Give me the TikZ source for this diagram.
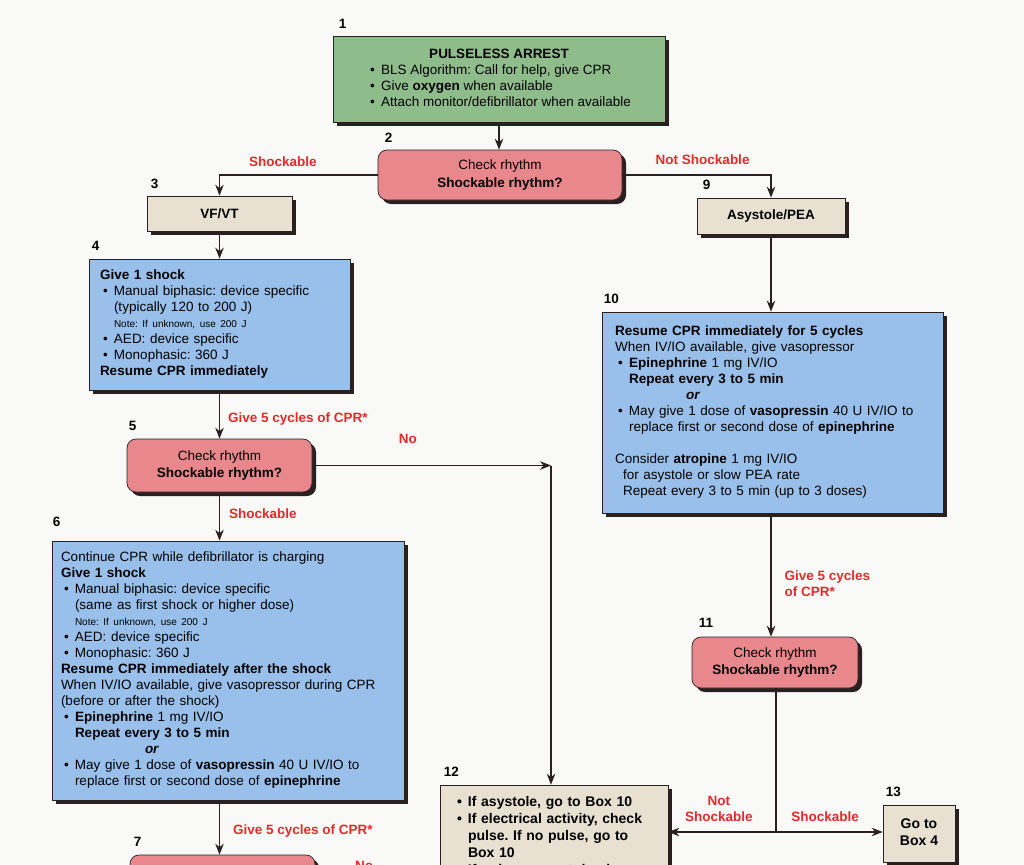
\documentclass[tikz,border=0pt]{standalone}
\usepackage{fontspec}
\setmainfont{Liberation Sans}
\usetikzlibrary{shapes,shadows,arrows.meta,positioning}

\newcommand{\bu}{\hspace*{3pt}\makebox[11pt][l]{\textbullet}}
\newcommand{\ind}{\hspace*{14pt}}
\newcommand{\note}[1]{{\fontsize{10}{16}\selectfont #1}}
\frenchspacing

\begin{document}
\begin{tikzpicture}[x=1pt,y=-1pt,
		every node/.style={font=\fontsize{13.5}{16}\selectfont},
		boxbase/.style={draw=ink,line width=0.7pt,inner sep=0pt,
			drop shadow={shadow xshift=4pt,shadow yshift=-4pt,fill=ink,opacity=1}},
		startbox/.style={boxbase,fill=greenc},
		askbox/.style={boxbase,fill=pinkc,rounded corners=9pt,font=\fontsize{13.5}{17.5}\selectfont},
		rhythmbox/.style={boxbase,fill=beigec,font=\fontsize{13.5}{16}\selectfont\bfseries},
		stepbox/.style={boxbase,fill=bluec,align=left},
		num/.style={font=\fontsize{13.5}{16}\selectfont\bfseries,anchor=base west,inner sep=0pt},
		lab/.style={font=\fontsize{13.5}{16}\selectfont\bfseries,text=redc,inner sep=2pt,align=center},
		arr/.style={draw=ink,line width=1.1pt,-{Stealth[length=11pt,width=8.5pt]}},
		con/.style={draw=ink,line width=1.1pt}]
		\definecolor{ink}{HTML}{2A2020}
		\definecolor{greenc}{HTML}{8FBC8B}
		\definecolor{pinkc}{HTML}{E9888C}
		\definecolor{beigec}{HTML}{E8E0D0}
		\definecolor{bluec}{HTML}{98C0EA}
		\definecolor{redc}{HTML}{E42A2A}
		\definecolor{paper}{HTML}{F9F9F7}
		
		\useasboundingbox (0,0) rectangle (1024,864);
		\clip (0,0) rectangle (1024,864);
		\fill[paper] (0,0) rectangle (1024,864);
		
		% boxes
		\node[startbox,minimum width=332,minimum height=86] (start1) at (499,79) {
				\begin{tabular}{@{}l@{}}
				\multicolumn{1}{c}{\textbf{PULSELESS ARREST}}\\
				\bu BLS Algorithm: Call for help, give CPR\\
				\bu Give \textbf{oxygen} when available\\
				\bu Attach monitor/defibrillator when available
				\end{tabular}};
		\node[askbox,minimum width=244,minimum height=50] (chk2) at (500,175) {
				\begin{tabular}{c}
				Check rhythm\\
				\textbf{Shockable rhythm?}
				\end{tabular}};
		\node[rhythmbox,minimum width=145,minimum height=35] (vf3) at (219.5,213.5) {VF/VT};
		\node[rhythmbox,minimum width=148,minimum height=36] (asys9) at (771,216) {Asystole/PEA};
		
		\node[stepbox,minimum width=261,minimum height=131,text width=239,inner xsep=11] (shock4) at (219.5,324.5) {
				\begin{tabular}{@{}l@{}}
				\textbf{Give 1 shock}\\
				\bu Manual biphasic: device specific\\
				\ind (typically 120 to 200 J)\\
				\ind\note{Note: If unknown, use 200 J}\\
				\bu AED: device specific\\
				\bu Monophasic: 360 J\\
				\textbf{Resume CPR immediately}
				\end{tabular}};
		\node[askbox,minimum width=185,minimum height=53] (chk5) at (219.5,465.5) {
				\begin{tabular}{c}
				Check rhythm\\
				\textbf{Shockable rhythm?}
				\end{tabular}};
		\node[stepbox,minimum width=352,minimum height=259,text width=334,inner xsep=9] (cpr6) at (228,670.5) {
				\begin{tabular}{@{}l@{}}
				Continue CPR while defibrillator is charging\\
				\textbf{Give 1 shock}\\
				\bu Manual biphasic: device specific\\
				\ind (same as first shock or higher dose)\\
				\ind\note{Note: If unknown, use 200 J}\\
				\bu AED: device specific\\
				\bu Monophasic: 360 J\\
				\textbf{Resume CPR immediately after the shock}\\
				When IV/IO available, give vasopressor during CPR\\
				(before or after the shock)\\
				\bu \textbf{Epinephrine} 1 mg IV/IO\\
				\ind\textbf{Repeat every 3 to 5 min}\\
				\hspace*{84pt}\textbf{\textit{or}}\\
				\bu May give 1 dose of \textbf{vasopressin} 40 U IV/IO to\\
				\ind replace first or second dose of \textbf{epinephrine}
				\end{tabular}};
		\node[askbox,minimum width=185,minimum height=53] (chk7) at (222.5,881.5) {};
		
		\node[stepbox,minimum width=341,minimum height=201,text width=315,inner xsep=13] (drug10) at (772.5,412.5) {
				\begin{tabular}{@{}l@{}}
				\textbf{Resume CPR immediately for 5 cycles}\\
				When IV/IO available, give vasopressor\\
				\bu \textbf{Epinephrine} 1 mg IV/IO\\
				\ind\textbf{Repeat every 3 to 5 min}\\
				\hspace*{71pt}\textbf{\textit{or}}\\
				\bu May give 1 dose of \textbf{vasopressin} 40 U IV/IO to\\
				\ind replace first or second dose of \textbf{epinephrine}\\
				\\
				Consider \textbf{atropine} 1 mg IV/IO\\
				\hspace*{8pt}for asystole or slow PEA rate\\
				\hspace*{8pt}Repeat every 3 to 5 min (up to 3 doses)
				\end{tabular}};
		\node[askbox,minimum width=166,minimum height=51] (chk11) at (775,662.5) {
				\begin{tabular}{c}
				Check rhythm\\
				\textbf{Shockable rhythm?}
				\end{tabular}};
		\node[rhythmbox,minimum width=228,minimum height=104,text width=200,inner xsep=14,align=left,
			font=\fontsize{14}{17}\selectfont\bfseries] (act12) at (554,837) {
				\begin{tabular}{@{}l@{}}
				\bu If asystole, go to Box 10\\
				\bu If electrical activity, check\\
				\ind pulse. If no pulse, go to\\
				\ind Box 10\\
				\bu If pulse present, begin
				\end{tabular}};
		\node[rhythmbox,minimum width=72,minimum height=57,font=\fontsize{14}{17}\selectfont\bfseries] (go13) at (919,833.5) {
				\begin{tabular}{c}
				Go to\\
				Box 4
				\end{tabular}};
		
		% numbers
		\node[num] (n1) at ([xshift=6pt,yshift=7pt]start1.north west) {1};
		\node[num] (n2) at ([xshift=7pt,yshift=7pt]chk2.north west) {2};
		\node[num] (n3) at ([xshift=4pt,yshift=7pt]vf3.north west) {3};
		\node[num] (n4) at ([xshift=3pt,yshift=8pt]shock4.north west) {4};
		\node[num] (n5) at ([xshift=2pt,yshift=8pt]chk5.north west) {5};
		\node[num] (n6) at ([xshift=1pt,yshift=14pt]cpr6.north west) {6};
		\node[num] (n7) at ([xshift=4pt,yshift=8pt]chk7.north west) {7};
		\node[num] (n9) at ([xshift=6pt,yshift=8pt]asys9.north west) {9};
		\node[num] (n10) at ([xshift=2pt,yshift=8pt]drug10.north west) {10};
		\node[num] (n11) at ([xshift=7pt,yshift=9pt]chk11.north west) {11};
		\node[num] (n12) at ([xshift=4pt,yshift=8pt]act12.north west) {12};
		\node[num] (n13) at ([xshift=3pt,yshift=8pt]go13.north west) {13};
		
		% connectors
		\coordinate (nojoin) at (551,465.5);
		\coordinate (split) at (776,832);
		
		\draw[arr] (start1.south) -- (start1.south |- chk2.north);
		\draw[arr] (chk2.west) -| (vf3.north) node[lab,pos=0.3,above=6pt] (l2a) {Shockable};
		\draw[arr] (chk2.east) -| (asys9.north) node[lab,pos=0.27,above=8pt] (l2b) {Not Shockable};
		\draw[arr] (vf3.south) -- (shock4.north);
		\draw[arr] (shock4.south) -- (chk5.north) node[lab,pos=0.6,right=6pt] (l4) {Give 5 cycles of CPR*};
		\draw[arr] (chk5.east) -- (nojoin) node[lab,pos=0.4,above=19pt] (l5a) {No};
		\draw[arr] (nojoin) -- (nojoin |- act12.north);
		\draw[arr] (chk5.south) -- (chk5.south |- cpr6.north) node[lab,pos=0.45,right=7pt] (l5b) {Shockable};
		\draw[arr] (cpr6.south -| chk5.south) -- (chk7.north -| chk5.south) node[lab,pos=0.56,right=11pt] (l6) {Give 5 cycles of CPR*};
		\node[lab] (l7) at (364,866) {No};
		\draw[arr] (asys9.south) -- (asys9.south |- drug10.north);
		\draw[arr] (drug10.south -| asys9.south) -- (chk11.north -| asys9.south) node[lab,pos=0.57,right=11pt,align=left] (l10) {Give 5 cycles\\of CPR*};
		\draw[con] (chk11.south -| split) -- (split);
		\draw[arr] (split) -- (split -| act12.east) node[lab,pos=0.53,above=8pt] (l11a) {Not\\Shockable};
		\draw[arr] (split) -- (split -| go13.west) node[lab,pos=0.46,above=8pt] (l11b) {Shockable};
		\end{tikzpicture}
\end{document}
